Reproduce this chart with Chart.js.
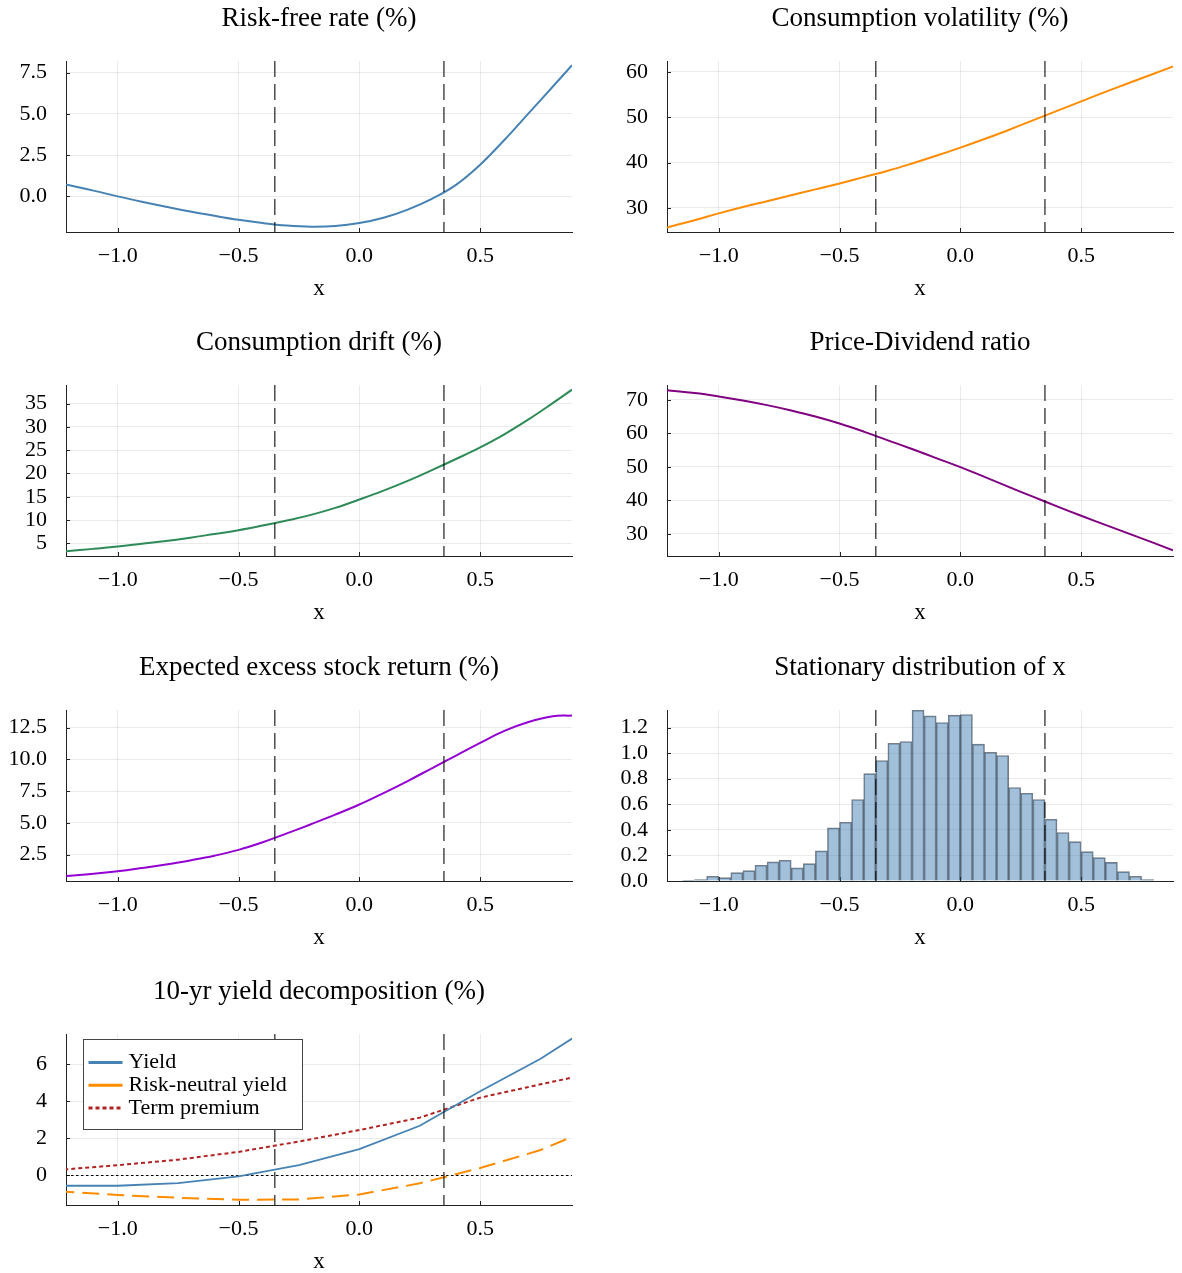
<!DOCTYPE html>
<html>
<head>
<meta charset="utf-8">
<title>Model functions of x</title>
<script src="https://cdn.jsdelivr.net/npm/chart.js@4.4.1/dist/chart.umd.min.js"></script>
<style>
  body { margin: 0; background: #fff; }
  #wrap { position: relative; width: 1182px; height: 1273px; }
  .panel { position: absolute; width: 591px; height: 324px; }
</style>
</head>
<body>
<div id="wrap">
  <div class="panel" style="left:0;top:0"><canvas id="c1"></canvas></div>
  <div class="panel" style="left:591px;top:0"><canvas id="c2"></canvas></div>
  <div class="panel" style="left:0;top:324px"><canvas id="c3"></canvas></div>
  <div class="panel" style="left:591px;top:324px"><canvas id="c4"></canvas></div>
  <div class="panel" style="left:0;top:649px"><canvas id="c5"></canvas></div>
  <div class="panel" style="left:591px;top:649px"><canvas id="c6"></canvas></div>
  <div class="panel" style="left:0;top:973px"><canvas id="c7"></canvas></div>
</div>
<script>
// x axis shared by every panel
const xRange = [-1.214, 0.88];
const xTicks = [-1.0, -0.5, 0.0, 0.5];
const cutoffs = [-0.35, 0.35];

// curves
const xGrid = [-1.214, -1.1, -1.0, -0.9, -0.8, -0.7, -0.6, -0.5, -0.4, -0.3, -0.2, -0.1,
               0.0, 0.1, 0.2, 0.3, 0.4, 0.5, 0.6, 0.7, 0.8, 0.88];
const riskFree = [0.72, 0.35, 0.0, -0.33, -0.63, -0.92, -1.18, -1.42, -1.62, -1.77, -1.84, -1.80,
                  -1.62, -1.30, -0.80, -0.15, 0.70, 1.92, 3.42, 5.03, 6.65, 7.95];
const consVol = [25.7, 27.3, 28.8, 30.2, 31.5, 32.8, 34.1, 35.4, 36.8, 38.2, 39.8, 41.5,
                 43.3, 45.2, 47.2, 49.3, 51.4, 53.5, 55.6, 57.6, 59.6, 61.2];
const consDrift = [3.3, 3.8, 4.3, 4.9, 5.5, 6.2, 7.0, 7.8, 8.8, 9.9, 11.1, 12.6,
                   14.4, 16.3, 18.4, 20.7, 23.1, 25.6, 28.4, 31.6, 35.1, 38.0];
const priceDiv = [72.8, 72.0, 71.0, 69.8, 68.4, 66.8, 65.0, 62.9, 60.5, 57.9, 55.3, 52.6,
                  49.9, 47.0, 44.0, 41.1, 38.2, 35.4, 32.7, 30.0, 27.3, 25.1];
const excessRet = [0.82, 1.0, 1.2, 1.45, 1.72, 2.05, 2.42, 2.88, 3.48, 4.18, 4.9, 5.65,
                   6.45, 7.35, 8.3, 9.3, 10.3, 11.3, 12.25, 12.95, 13.4, 13.45];

// stationary distribution histogram (bin width 0.05)
const histCenters = [-1.125, -1.075, -1.025, -0.975, -0.925, -0.875, -0.825, -0.775, -0.725, -0.675,
                     -0.625, -0.575, -0.525, -0.475, -0.425, -0.375, -0.325, -0.275, -0.225, -0.175,
                     -0.125, -0.075, -0.025, 0.025, 0.075, 0.125, 0.175, 0.225, 0.275, 0.325,
                     0.375, 0.425, 0.475, 0.525, 0.575, 0.625, 0.675, 0.725, 0.775];
const histDensity = [0.003, 0.011, 0.037, 0.026, 0.065, 0.081, 0.123, 0.149, 0.162, 0.102,
                     0.136, 0.235, 0.415, 0.459, 0.637, 0.840, 0.942, 1.077, 1.091, 1.336,
                     1.291, 1.239, 1.297, 1.302, 1.070, 1.007, 0.981, 0.731, 0.686, 0.637,
                     0.483, 0.379, 0.308, 0.230, 0.183, 0.146, 0.073, 0.037, 0.011];

// 10-yr yield decomposition (coarse grid)
const yieldX = [-1.25, -1.0, -0.75, -0.5, -0.25, 0.0, 0.25, 0.5, 0.75, 1.0];
const yieldTotal = [-0.56, -0.56, -0.42, -0.05, 0.55, 1.42, 2.68, 4.55, 6.3, 8.4];
const yieldRiskNeutral = [-0.85, -1.06, -1.21, -1.32, -1.30, -1.03, -0.43, 0.40, 1.37, 2.75];
const yieldTermPremium = [0.29, 0.55, 0.85, 1.27, 1.83, 2.45, 3.12, 4.20, 4.92, 5.62];

// y ticks per panel
const ticksRiskFree = [0, 2.5, 5, 7.5];
const ticksVol = [30, 40, 50, 60];
const ticksDrift = [5, 10, 15, 20, 25, 30, 35];
const ticksPD = [30, 40, 50, 60, 70];
const ticksExcess = [2.5, 5, 7.5, 10, 12.5];
const ticksHist = [0, 0.2, 0.4, 0.6, 0.8, 1.0, 1.2];
const ticksYield = [0, 2, 4, 6];

const FONT = "'Liberation Serif', 'Times New Roman', serif";
Chart.defaults.font.family = FONT;
Chart.defaults.color = '#000';

const fmt = (v, d) => (v < 0 ? '\u2212' : '') + Math.abs(v).toFixed(d);
const pts = (xs, ys) => xs.map((x, i) => ({ x: x, y: ys[i] }));

// inward ticks, zero line, cutoff lines, legend box
const guides = {
    id: 'guides',
    beforeDatasetsDraw(chart, args, opts) {
        const { ctx, chartArea: a, scales: { x, y } } = chart;
        ctx.save();
        ctx.strokeStyle = '#222';
        ctx.lineWidth = 1;
        x.ticks.forEach(t => {
            const px = Math.round(x.getPixelForValue(t.value)) + 0.5;
            ctx.beginPath(); ctx.moveTo(px, a.bottom); ctx.lineTo(px, a.bottom - 4); ctx.stroke();
        });
        y.ticks.forEach(t => {
            const py = Math.round(y.getPixelForValue(t.value)) + 0.5;
            ctx.beginPath(); ctx.moveTo(a.left, py); ctx.lineTo(a.left + 4, py); ctx.stroke();
        });
        if (opts.zero) {
            const py = Math.round(y.getPixelForValue(0)) + 0.5;
            ctx.strokeStyle = '#000';
            ctx.setLineDash([2.5, 2.5]);
            ctx.beginPath(); ctx.moveTo(a.left, py); ctx.lineTo(a.right, py); ctx.stroke();
        }
        ctx.restore();
    },
    afterDatasetsDraw(chart, args, opts) {
        const { ctx, chartArea: a, scales: { x } } = chart;
        ctx.save();
        ctx.strokeStyle = 'rgba(0,0,0,0.7)';
        ctx.lineWidth = 1.5;
        ctx.setLineDash([16, 7]);
        cutoffs.forEach(c => {
            const px = x.getPixelForValue(c);
            ctx.beginPath(); ctx.moveTo(px, a.top); ctx.lineTo(px, a.bottom); ctx.stroke();
        });
        ctx.restore();

        if (!opts.legend) return;
        const bx = a.left + 17.5, by = a.top + 5.5, bw = 219, bh = 90;
        ctx.save();
        ctx.fillStyle = '#fff';
        ctx.fillRect(bx, by, bw, bh);
        ctx.strokeStyle = '#444';
        ctx.lineWidth = 1;
        ctx.strokeRect(bx, by, bw, bh);
        ctx.font = '22px ' + FONT;
        ctx.textBaseline = 'middle';
        chart.data.datasets.forEach((ds, i) => {
            const cy = by + 23 + i * 22.7;
            ctx.strokeStyle = ds.borderColor;
            ctx.lineWidth = 3;
            ctx.setLineDash(ds.legendDash || []);
            ctx.beginPath(); ctx.moveTo(bx + 5, cy); ctx.lineTo(bx + 39, cy); ctx.stroke();
            ctx.fillStyle = '#000';
            ctx.fillText(ds.label, bx + 45, cy);
        });
        ctx.restore();
    }
};

function makePanel(id, col, type, title, datasets, yMin, yMax, yTicks, yDec, extra) {
    const gridColor = 'rgba(0,0,0,0.08)';
    return new Chart(document.getElementById(id), {
        type: type,
        data: { datasets: datasets },
        options: {
            responsive: true,
            maintainAspectRatio: false,
            animation: false,
            events: [],
            layout: { padding: { left: 0, right: col ? 9 : 19, top: 0, bottom: 0 } },
            elements: { point: { radius: 0 } },
            plugins: {
                legend: { display: false },
                tooltip: { enabled: false },
                title: {
                    display: true,
                    text: title,
                    fullSize: false,
                    color: '#000',
                    font: { size: 27, weight: 'normal' },
                    padding: { top: 2.5, bottom: 26.1 }
                },
                guides: extra || {}
            },
            scales: {
                x: {
                    type: 'linear',
                    min: xRange[0],
                    max: xRange[1],
                    offset: false,
                    afterBuildTicks: s => { s.ticks = xTicks.map(v => ({ value: v })); },
                    afterFit: s => { s.height = 92; },
                    ticks: {
                        padding: 11,
                        color: '#000',
                        font: { size: 22 },
                        maxRotation: 0,
                        autoSkip: false,
                        callback: v => fmt(v, 1)
                    },
                    grid: { color: gridColor, drawTicks: false, offset: false },
                    border: { color: '#222', width: 1 },
                    title: {
                        display: true,
                        text: 'x',
                        color: '#000',
                        font: { size: 23 },
                        padding: { top: 0, bottom: 21 }
                    }
                },
                y: {
                    type: 'linear',
                    min: yMin,
                    max: yMax,
                    afterBuildTicks: s => { s.ticks = yTicks.map(v => ({ value: v })); },
                    afterFit: s => { s.width = col ? 76 : 66; },
                    ticks: {
                        padding: 19,
                        color: '#000',
                        font: { size: 22 },
                        autoSkip: false,
                        callback: v => fmt(v, yDec)
                    },
                    grid: { color: gridColor, drawTicks: false },
                    border: { color: '#222', width: 1 }
                }
            }
        },
        plugins: [guides]
    });
}

function curve(ys, color) {
    return {
        data: pts(xGrid, ys),
        borderColor: color,
        borderWidth: 2,
        fill: false,
        tension: 0.4
    };
}

makePanel('c1', 0, 'line', 'Risk-free rate (%)', [curve(riskFree, '#4682b4')],
    -2.16, 8.21, ticksRiskFree, 1);
makePanel('c2', 1, 'line', 'Consumption volatility (%)', [curve(consVol, '#ff8c00')],
    24.7, 62.4, ticksVol, 0);
makePanel('c3', 0, 'line', 'Consumption drift (%)', [curve(consDrift, '#2e8b57')],
    2.27, 39.0, ticksDrift, 0);
makePanel('c4', 1, 'line', 'Price-Dividend ratio', [curve(priceDiv, '#800080')],
    23.4, 74.4, ticksPD, 0);
makePanel('c5', 0, 'line', 'Expected excess stock return (%)', [curve(excessRet, '#9400d3')],
    0.43, 13.89, ticksExcess, 1);
makePanel('c6', 1, 'bar', 'Stationary distribution of x', [{
        data: pts(histCenters, histDensity),
        backgroundColor: 'rgba(70,130,180,0.5)',
        borderColor: 'rgba(30,40,55,0.6)',
        borderWidth: 1,
        barPercentage: 1,
        categoryPercentage: 1,
        grouped: false
    }], 0, 1.337, ticksHist, 1);
makePanel('c7', 0, 'line', '10-yr yield decomposition (%)', [
    {
        label: 'Yield',
        data: pts(yieldX, yieldTotal),
        borderColor: '#4682b4',
        borderWidth: 1.8,
        fill: false
    },
    {
        label: 'Risk-neutral yield',
        data: pts(yieldX, yieldRiskNeutral),
        borderColor: '#ff8c00',
        borderWidth: 2,
        borderDash: [17, 8],
        fill: false
    },
    {
        label: 'Term premium',
        data: pts(yieldX, yieldTermPremium),
        borderColor: '#b22222',
        borderWidth: 2,
        borderDash: [4, 3],
        legendDash: [4, 3],
        fill: false
    }
], -1.6, 7.64, ticksYield, 0, { zero: true, legend: true });
</script>
</body>
</html>
